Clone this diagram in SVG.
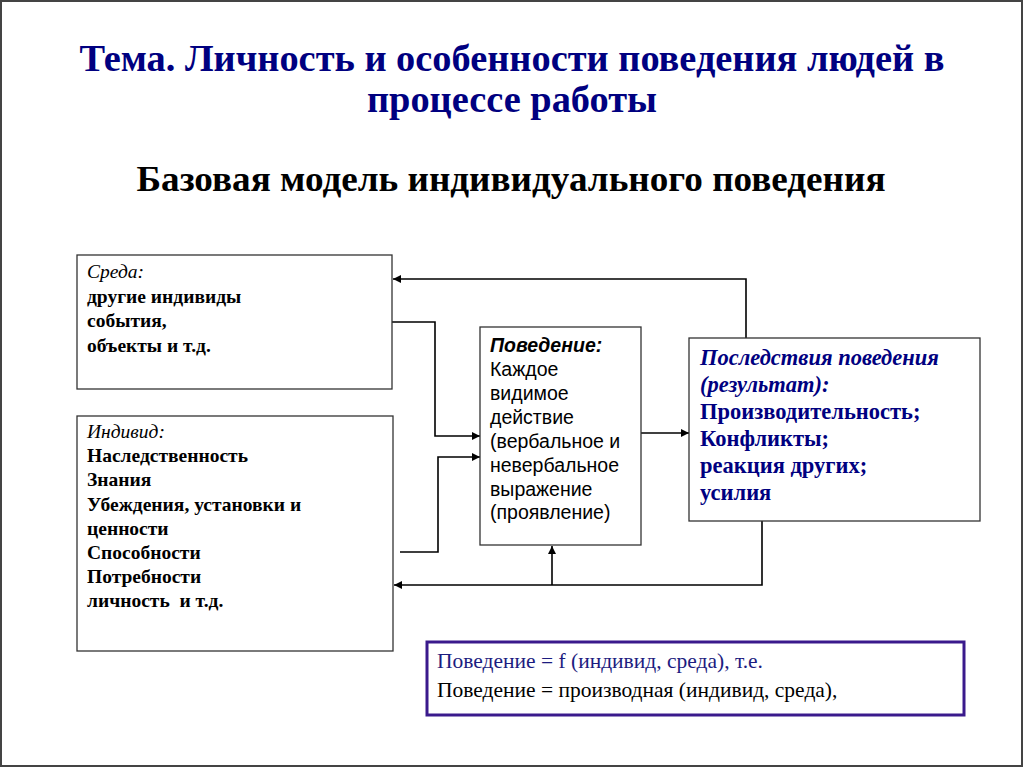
<svg xmlns="http://www.w3.org/2000/svg" width="1024" height="768" viewBox="0 0 1024 768">
<style>
.box{fill:#fff;stroke:#333;stroke-width:1.3}
.ln{fill:none;stroke:#000;stroke-width:1.6}
.serif{font-family:"Liberation Serif","Times New Roman",serif}
.sans{font-family:"Liberation Sans",Arial,sans-serif}
.t19{font-size:19.5px}
.b{font-weight:bold}
.i{font-style:italic}
.navy{fill:#000080}
</style>
<defs>
<marker id="ah" viewBox="0 0 10 10" refX="10" refY="5" markerWidth="10" markerHeight="8" markerUnits="userSpaceOnUse" orient="auto">
<path d="M0,0 L10,5 L0,10 z" fill="#000"/>
</marker>
</defs>
<rect x="0" y="0" width="1024" height="768" fill="#fff"/>
<rect x="1" y="1" width="1021" height="765" fill="none" stroke="#444" stroke-width="2"/>
<g id="title">
<text class="serif b navy" x="512" y="71" font-size="38" text-anchor="middle" textLength="865" lengthAdjust="spacingAndGlyphs">Тема. Личность и особенности поведения людей в</text>
<text class="serif b navy" x="512" y="112" font-size="38" text-anchor="middle" textLength="290" lengthAdjust="spacingAndGlyphs">процессе работы</text>
<text class="serif b" x="511" y="191" font-size="36" text-anchor="middle" textLength="749" lengthAdjust="spacingAndGlyphs" fill="#000">Базовая модель индивидуального поведения</text>
</g>
<g id="connectors">
<polyline class="ln" points="746,338 746,279 393,279" marker-end="url(#ah)"/>
<polyline class="ln" points="392,322 435,322 435,436 480,436" marker-end="url(#ah)"/>
<polyline class="ln" points="400,552 438,552 438,457 480,457" marker-end="url(#ah)"/>
<line class="ln" x1="641" y1="433" x2="689" y2="433" marker-end="url(#ah)"/>
<polyline class="ln" points="762,521 762,585 394,585" marker-end="url(#ah)"/>
<line class="ln" x1="552" y1="585" x2="552" y2="546" marker-end="url(#ah)"/>
</g>
<g id="sreda">
<rect class="box" x="77" y="255" width="315" height="134"/>
<text class="serif t19" x="87" y="278"><tspan class="i">Среда:</tspan><tspan class="b" x="87" dy="24.5">другие индивиды</tspan><tspan class="b" x="87" dy="24.5">события,</tspan><tspan class="b" x="87" dy="24.5">объекты и т.д.</tspan></text>
</g>
<g id="individ">
<rect class="box" x="77" y="416" width="316" height="235"/>
<text class="serif t19" x="87" y="438"><tspan class="i">Индивид:</tspan><tspan class="b" x="87" dy="24.2">Наследственность</tspan><tspan class="b" x="87" dy="24.2">Знания</tspan><tspan class="b" x="87" dy="24.2">Убеждения, установки и</tspan><tspan class="b" x="87" dy="24.2">ценности</tspan><tspan class="b" x="87" dy="24.2">Способности</tspan><tspan class="b" x="87" dy="24.2">Потребности</tspan><tspan class="b" x="87" dy="24.2" xml:space="preserve">личность  и т.д.</tspan></text>
</g>
<g id="povedenie">
<rect class="box" x="480" y="327" width="161" height="218"/>
<text class="sans" font-size="19.5" x="490" y="352" fill="#000"><tspan class="b i">Поведение:</tspan><tspan x="490" dy="24">Каждое</tspan><tspan x="490" dy="24">видимое</tspan><tspan x="490" dy="24">действие</tspan><tspan x="490" dy="24">(вербальное и</tspan><tspan x="490" dy="24">невербальное</tspan><tspan x="490" dy="23.5">выражение</tspan><tspan x="490" dy="23.5">(проявление)</tspan></text>
</g>
<g id="posledstviya">
<rect class="box" x="689" y="338" width="291" height="183"/>
<text class="serif b navy" font-size="22.5" x="700" y="365"><tspan class="i">Последствия поведения</tspan><tspan class="i" x="700" dy="26.5">(результат):</tspan><tspan x="700" dy="27.5">Производительность;</tspan><tspan x="700" dy="27">Конфликты;</tspan><tspan x="700" dy="27">реакция других;</tspan><tspan x="700" dy="27">усилия</tspan></text>
</g>
<g id="formula">
<rect x="427" y="642" width="537" height="73" fill="#fff" stroke="#3a1a8c" stroke-width="3"/>
<text class="serif" font-size="21.5" x="437" y="668" fill="#1c1c80">Поведение = f (индивид, среда), т.е.</text>
<text class="serif" font-size="21.5" x="437" y="697" fill="#000">Поведение = производная (индивид, среда),</text>
</g>
</svg>
